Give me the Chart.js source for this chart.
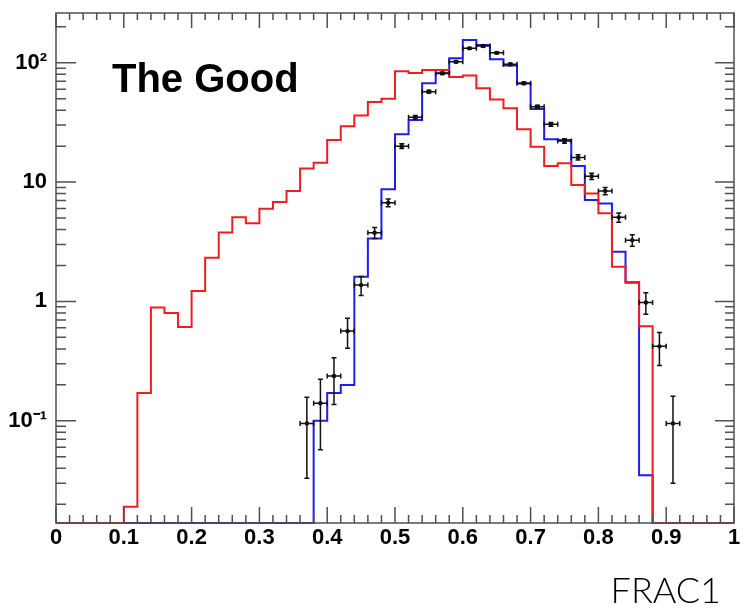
<!DOCTYPE html>
<html><head><meta charset="utf-8">
<script src="https://cdn.jsdelivr.net/npm/chart.js@4.4.1/dist/chart.umd.min.js"></script>
<style>html,body{margin:0;padding:0;background:#fff;}canvas{display:block;}</style>
</head><body>
<canvas id="c" width="747" height="611"></canvas>
<script>
// ---- data ----
const histTitle = 'The Good';
const axisTitle = 'FRAC1';
const binLowEdges = [0.00,0.02,0.04,0.06,0.08,0.10,0.12,0.14,0.16,0.18,
                     0.20,0.22,0.24,0.26,0.28,0.30,0.32,0.34,0.36,0.38,
                     0.40,0.42,0.44,0.46,0.48,0.50,0.52,0.54,0.56,0.58,
                     0.60,0.62,0.64,0.66,0.68,0.70,0.72,0.74,0.76,0.78,
                     0.80,0.82,0.84,0.86,0.88,0.90,0.92,0.94,0.96,0.98];
const histUpperEdge = 1.00;
const redValues = [0,0,0,0,0,0.019,0.171,0.89,0.80,0.61,
                   1.22,2.32,3.78,5.06,4.51,5.97,6.8,8.4,13.0,14.5,
                   22.5,29.4,36.2,46.9,50,85,82,87,87,76,
                   78,61,49.3,41.5,27.7,19.8,13.6,14.4,9.44,8.03,
                   5.47,1.95,1.43,0.62,0,0,0,0,0,0];
const blueValues = [0,0,0,0,0,0,0,0,0,0,
                    0,0,0,0,0,0,0,0,0,0.10,
                    0.171,0.199,1.61,3.37,8.7,25.1,33.1,67.2,81.5,109,
                    155,141,107,95,67,41,22.8,22.5,13.6,7.06,
                    6.6,2.61,1.45,0.035,0,0,0,0,0,0];
const dataX = [0.37,0.39,0.41,0.43,0.45,0.47,0.49,0.51,0.53,0.55,
               0.57,0.59,0.61,0.63,0.65,0.67,0.69,0.71,0.73,0.75,
               0.77,0.79,0.81,0.83,0.85,0.87,0.89,0.91];
const dataY = [0.095,0.14,0.237,0.564,1.37,3.76,6.7,20.0,34.9,57.2,
               81.5,102,132,138,121,97,67.2,42.8,30.5,22.1,
               16.1,11.2,8.42,5.06,3.26,0.98,0.42,0.095];
const dataErrY = [0.062,0.083,0.10,0.16,0.25,0.40,0.50,0.90,1.2,1.5,
                  1.8,2.0,2.3,2.3,2.2,2.0,1.6,1.3,1.1,0.95,
                  0.80,0.67,0.58,0.45,0.36,0.20,0.13,0.065];
const dataErrX = 0.01;
const xRange = [0, 1];
const yRange = [0.0139, 261];
const xTickValues = [0,0.1,0.2,0.3,0.4,0.5,0.6,0.7,0.8,0.9,1];
const xTickLabels = ['0','0.1','0.2','0.3','0.4','0.5','0.6','0.7','0.8','0.9','1'];
const xMinorStep = 0.02;
const yTickValues = [0.1, 1, 10, 100];
const yTickLabels = ['10\u207B\u00B9', '1', '10', '10\u00B2'];

const redColor = '#f01e1e';
const blueColor = '#1e1ef0';
const frameColor = '#505050';

function stepData(values) {
  const pts = binLowEdges.map((e, i) => ({x: e, y: Math.max(values[i], yRange[0])}));
  pts.push({x: histUpperEdge, y: Math.max(values[values.length - 1], yRange[0])});
  return pts;
}

const framePlugin = {
  id: 'frame',
  afterDatasetsDraw(chart) {
    const {ctx, chartArea: a, scales: {x, y}} = chart;
    ctx.save();
    // error bars
    ctx.strokeStyle = '#111';
    ctx.lineWidth = 1.5;
    dataX.forEach((xv, i) => {
      const yv = dataY[i], e = dataErrY[i];
      const px = x.getPixelForValue(xv);
      const py = y.getPixelForValue(yv);
      const yHi = y.getPixelForValue(yv + e);
      const yLo = y.getPixelForValue(Math.max(yv - e, yRange[0]));
      const xL = x.getPixelForValue(xv - dataErrX);
      const xR = x.getPixelForValue(xv + dataErrX);
      ctx.beginPath();
      ctx.moveTo(px, yHi); ctx.lineTo(px, yLo);
      ctx.moveTo(px - 2.5, yHi); ctx.lineTo(px + 2.5, yHi);
      ctx.moveTo(px - 2.5, yLo); ctx.lineTo(px + 2.5, yLo);
      ctx.moveTo(xL, py); ctx.lineTo(xR, py);
      ctx.moveTo(xL, py - 2.5); ctx.lineTo(xL, py + 2.5);
      ctx.moveTo(xR, py - 2.5); ctx.lineTo(xR, py + 2.5);
      ctx.stroke();
    });
    // frame
    ctx.strokeStyle = frameColor;
    ctx.lineWidth = 1.5;
    ctx.strokeRect(a.left, a.top, a.right - a.left, a.bottom - a.top);
    ctx.beginPath();
    const nMinor = Math.round((xRange[1] - xRange[0]) / xMinorStep);
    for (let k = 0; k <= nMinor; k++) {
      const v = xRange[0] + k * xMinorStep;
      const major = k % 5 === 0;
      const px = x.getPixelForValue(v);
      const lb = major ? 16 : 8, lt = major ? 15 : 7;
      ctx.moveTo(px, a.bottom); ctx.lineTo(px, a.bottom - lb);
      ctx.moveTo(px, a.top); ctx.lineTo(px, a.top + lt);
    }
    for (let d = -3; d <= 3; d++) {
      for (let m = 1; m <= 9; m++) {
        const v = m * Math.pow(10, d);
        if (v < yRange[0] || v > yRange[1]) continue;
        const py = y.getPixelForValue(v);
        const len = m === 1 ? 20 : 10;
        ctx.moveTo(a.left, py); ctx.lineTo(a.left + len, py);
        ctx.moveTo(a.right, py); ctx.lineTo(a.right - (m === 1 ? 19 : 9), py);
      }
    }
    ctx.stroke();
    // texts
    ctx.fillStyle = '#000';
    ctx.font = 'bold 40px "Liberation Sans", Arial, sans-serif';
    ctx.textAlign = 'left';
    ctx.textBaseline = 'alphabetic';
    ctx.fillText(histTitle, 112, 92);
    ctx.font = '300 36px Lato, "Open Sans", sans-serif';
    ctx.textAlign = 'right';
    ctx.fillText(axisTitle, 721, 603);
    ctx.restore();
  }
};

new Chart(document.getElementById('c'), {
  type: 'line',
  data: {
    datasets: [
      {label: 'data', data: dataX.map((v, i) => ({x: v, y: dataY[i]})), showLine: false,
       pointRadius: 2.2, pointBackgroundColor: '#000', pointBorderWidth: 0, order: 0, clip: false},
      {label: 'red', data: stepData(redValues), stepped: true, borderColor: redColor,
       borderWidth: 2, pointRadius: 0, fill: false, order: 1, clip: false},
      {label: 'blue', data: stepData(blueValues), stepped: true, borderColor: blueColor,
       borderWidth: 2, pointRadius: 0, fill: false, order: 2, clip: false}
    ]
  },
  options: {
    responsive: false,
    devicePixelRatio: 1,
    animation: false,
    layout: {padding: {top: 13, right: 13, left: 0, bottom: 0}},
    plugins: {legend: {display: false}, tooltip: {enabled: false}},
    scales: {
      x: {
        type: 'linear', min: xRange[0], max: xRange[1],
        grid: {display: false, drawTicks: false}, border: {display: false},
        afterFit: s => { s.height = 88; s.paddingLeft = 0; s.paddingRight = 0; },
        afterBuildTicks: s => { s.ticks = xTickValues.map(v => ({value: v})); },
        ticks: {
          autoSkip: false, maxRotation: 0, padding: 2, color: '#000',
          font: {family: '"Liberation Sans", Arial, sans-serif', size: 22, weight: 'bold'},
          callback: (v, i) => xTickLabels[i]
        }
      },
      y: {
        type: 'logarithmic', min: yRange[0], max: yRange[1],
        grid: {display: false, drawTicks: false}, border: {display: false},
        afterFit: s => { s.width = 56; s.paddingTop = 0; s.paddingBottom = 0; },
        afterBuildTicks: s => { s.ticks = yTickValues.map(v => ({value: v})); },
        ticks: {
          autoSkip: false, padding: 9, color: '#000',
          font: {family: '"Liberation Sans", Arial, sans-serif', size: 22, weight: 'bold'},
          callback: (v, i) => yTickLabels[i]
        }
      }
    }
  },
  plugins: [framePlugin]
});
</script>
</body></html>
